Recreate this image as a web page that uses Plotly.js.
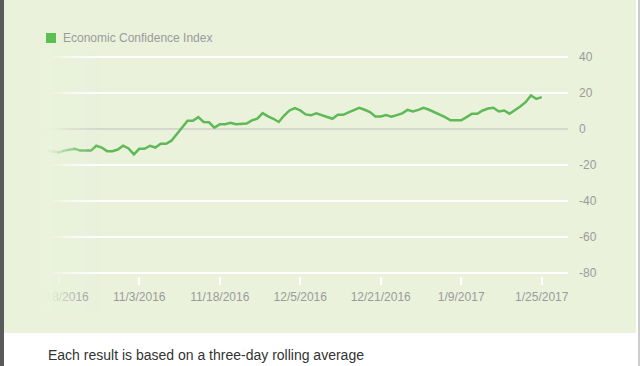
<!DOCTYPE html>
<html>
<head>
<meta charset="utf-8">
<script src="https://cdn.plot.ly/plotly-3.0.1.min.js"></script>
<style>html,body{margin:0;padding:0;background:#fff;}#chart{width:640px;height:366px;}</style>
</head>
<body>
<div id="chart"></div>
<script>
// Economic Confidence Index, three-day rolling average (one point per reading)
const seriesName = "Economic Confidence Index";
const indexValues = [
  -12, -12.5, -13, -12, -11.5, -11, -12, -12, -12, -9.3,
  -10.3, -12.3, -12.3, -11.4, -9.3, -10.8, -14.1, -11, -11, -9.3,
  -10.3, -8.2, -8.2, -6.5, -3, 1, 4.6, 4.6, 6.6, 3.9,
  3.7, 0.8, 2.6, 2.6, 3.5, 2.6, 2.6, 3, 4.8, 5.7,
  8.8, 7, 5.7, 3.9, 7.5, 10.3, 11.6, 10.3, 8.1, 7.6,
  8.7, 7.7, 7, 5.7, 7.9, 7.9, 9.2, 10.5, 11.8, 10.7,
  9.4, 7, 7, 7.7, 6.8, 7.7, 8.7, 10.6, 9.7, 10.6,
  11.8, 10.7, 9.4, 7.7, 6.6, 4.8, 4.8, 4.8, 6.6, 8.5,
  8.5, 10.3, 11.4, 11.8, 9.7, 10.3, 8.5, 10.3, 12.5, 14.9,
  18.6, 16.7, 17.7
];
const tickIndex = [2, 17, 32, 47, 62, 77, 92];
const tickLabels = ["10/18/2016", "11/3/2016", "11/18/2016", "12/5/2016", "12/21/2016", "1/9/2017", "1/25/2017"];
const yTickVals = [-80, -60, -40, -20, 0, 20, 40];
const yTickText = ["-80", "-60", "-40", "-20", "0", "20", "40"];
const caption = "Each result is based on a three-day rolling average";

const xs = indexValues.map((_, i) => i);

// plot-area geometry (pixels) for decorative paper shapes
const L = 47, R = 568, T = 54, B = 276;
const px = p => (p - L) / (R - L);
const py = p => (B - p) / (B - T);
const BG = "#eaf2dc";
const GREEN = "#5fb957";
const PAD = 5 / 3; // keeps 20-unit gridlines on whole pixels (36 px apart), away from plot edges

const shapes = [
  {type: "rect", xref: "paper", yref: "paper", x0: px(4), x1: px(636), y0: py(333), y1: py(0),
   fillcolor: BG, line: {width: 0}, layer: "below"},
  {type: "rect", xref: "paper", yref: "paper", x0: px(0), x1: px(4), y0: py(366), y1: py(0),
   fillcolor: "#5a5a5a", line: {width: 0}, layer: "below"},
  {type: "line", xref: "paper", yref: "paper", x0: px(639), x1: px(639), y0: py(366), y1: py(0),
   line: {color: "#9a9a9a", width: 1}, layer: "below"},
  // legend key square
  {type: "rect", xref: "paper", yref: "paper", x0: px(46), x1: px(56), y0: py(43), y1: py(33),
   fillcolor: "#5cbf50", line: {width: 0}, layer: "above"}
];
// left-edge fade
const fade = [[4, 47, 1.0], [47, 52, 0.94], [52, 57, 0.84], [57, 62, 0.7], [62, 67, 0.56],
              [67, 73, 0.43], [73, 79, 0.31], [79, 86, 0.21], [86, 94, 0.12], [94, 102, 0.05]];
fade.forEach(f => shapes.push({type: "rect", xref: "paper", yref: "paper",
  x0: px(f[0]), x1: px(f[1]), y0: py(312), y1: py(50),
  fillcolor: BG, opacity: f[2], line: {width: 0}, layer: "above"}));

const traces = [
  {type: "scatter", mode: "lines", x: xs, y: indexValues, name: seriesName, showlegend: false,
   line: {color: GREEN, width: 2.5}, hoverinfo: "y"}
];

const layout = {
  width: 640, height: 366,
  margin: {l: L, r: 640 - R, t: T, b: 366 - B, pad: 0},
  paper_bgcolor: "rgba(0,0,0,0)",
  plot_bgcolor: "rgba(0,0,0,0)",
  font: {family: "Liberation Sans, Arial, sans-serif", size: 12, color: "#9b9b9b"},
  showlegend: false,
  xaxis: {range: [-0.19, 96.9], showgrid: false, zeroline: false, showline: false,
          tickmode: "array", tickvals: tickIndex, ticktext: tickLabels,
          ticks: "outside", ticklen: 8, tickwidth: 2, tickcolor: "#ffffff", ticklabelstandoff: 2,
          tickfont: {size: 12, color: "#9b9b9b"}, fixedrange: true},
  yaxis: {range: [-80 - PAD, 40 + PAD], side: "right", tickmode: "array", tickvals: yTickVals, ticktext: yTickText,
          showgrid: true, gridcolor: "#ffffff", gridwidth: 2,
          zeroline: true, zerolinecolor: "#d6d8cf", zerolinewidth: 2,
          ticks: "", ticklabelstandoff: 10, tickfont: {size: 12, color: "#9b9b9b"}, fixedrange: true},
  shapes: shapes,
  annotations: [
    {xref: "paper", yref: "paper", x: px(61), y: py(38), xanchor: "left", yanchor: "middle",
     text: seriesName, showarrow: false, font: {size: 12, color: "#9b9b9b"}},
    {xref: "paper", yref: "paper", x: px(46), y: py(355), xanchor: "left", yanchor: "middle",
     text: caption, showarrow: false, font: {size: 14, color: "#333333"}}
  ]
};

Plotly.newPlot("chart", traces, layout, {displayModeBar: false, staticPlot: true});
</script>
</body>
</html>
